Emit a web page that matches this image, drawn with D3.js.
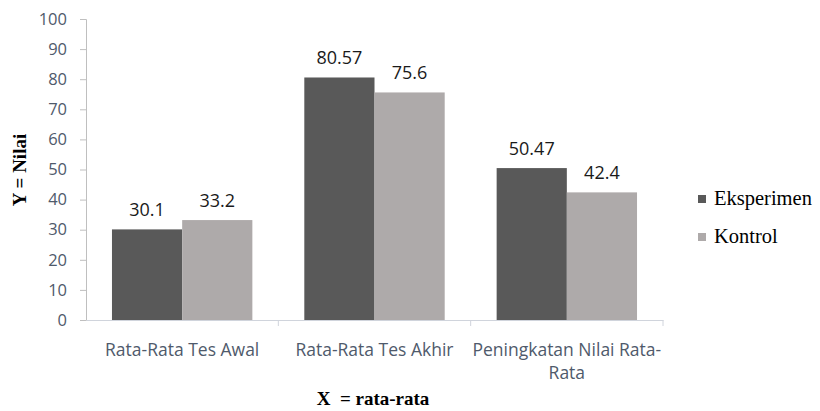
<!DOCTYPE html>
<html>
<head>
<meta charset="utf-8">
<script src="https://cdn.jsdelivr.net/npm/d3@7"></script>
<style>
	body { margin: 0; background: #fff; }
	svg { display: block; }
</style>
</head>
<body>
<script>
// chart values
var categories = ["Rata-Rata Tes Awal", "Rata-Rata Tes Akhir", "Peningkatan Nilai Rata-Rata"];
var categoryLines = [["Rata-Rata Tes Awal"], ["Rata-Rata Tes Akhir"], ["Peningkatan Nilai Rata-", "Rata"]];
var seriesNames = ["Eksperimen", "Kontrol"];
var eksperimen = [30.1, 80.57, 50.47];
var kontrol = [33.2, 75.6, 42.4];
var yTicks = [0, 10, 20, 30, 40, 50, 60, 70, 80, 90, 100];

// basic variables
var chartWidth = 820,
	chartHeight = 411,
	plotLeft = 86,
	plotRight = 663,
	plotTop = 19,
	plotBottom = 320,
	colors = ["#595959", "#aeaaaa"],
	tickColor = "#4f5a6b",
	sans = "'Open Sans', sans-serif",
	serif = "'Liberation Serif', 'Times New Roman', serif";

var svg = d3.select("body")
	.append("svg")
		.attr("width", chartWidth)
		.attr("height", chartHeight);

// scales
var x = d3.scaleBand()
	.domain(categories)
	.range([plotLeft, plotRight]);

var inner = d3.scaleBand()
	.domain(seriesNames)
	.range([0, x.bandwidth()])
	.paddingOuter(0.37);

var y = d3.scaleLinear()
	.domain([0, 100])
	.range([plotBottom, plotTop]);

// y axis
var yAxis = d3.axisLeft(y)
	.tickValues(yTicks)
	.tickSize(6)
	.tickPadding(13);

var gy = svg.append("g")
	.attr("transform", "translate(" + plotLeft + ",0)")
	.call(yAxis);

gy.select(".domain").attr("stroke", "#bfbfbf");
gy.selectAll(".tick line").attr("stroke", "#bfbfbf");
gy.selectAll(".tick text")
	.attr("fill", tickColor)
	.style("font-family", sans)
	.style("font-size", "16.5px");

// x axis
var xAxis = d3.axisBottom(x)
	.tickSize(0)
	.tickFormat("");

var gx = svg.append("g")
	.attr("transform", "translate(0," + plotBottom + ")")
	.call(xAxis);

gx.select(".domain").attr("stroke", "#d0d4dc");

// category separators
svg.append("g")
	.selectAll("line")
	.data(categories)
	.enter()
	.append("line")
		.attr("x1", function(d) { return x(d) + x.bandwidth(); })
		.attr("x2", function(d) { return x(d) + x.bandwidth(); })
		.attr("y1", plotBottom)
		.attr("y2", plotBottom + 6)
		.attr("stroke", "#d0d4dc");

// category labels
var labels = svg.append("g")
	.selectAll("text")
	.data(categories)
	.enter()
	.append("text")
		.attr("text-anchor", "middle")
		.attr("fill", tickColor)
		.style("font-family", sans)
		.style("font-size", "17.5px");

labels.each(function(d, i) {
	var t = d3.select(this);
	categoryLines[i].forEach(function(line, j) {
		t.append("tspan")
			.attr("x", x(d) + x.bandwidth() / 2)
			.attr("y", 356 + j * 23)
			.text(line);
	});
});

// bars
var rows = categories.map(function(c, i) {
	return { category: c, values: [eksperimen[i], kontrol[i]] };
});

var groups = svg.append("g")
	.selectAll("g")
	.data(rows)
	.enter()
	.append("g")
		.attr("transform", function(d) { return "translate(" + x(d.category) + ",0)"; });

var bars = groups.selectAll("rect")
	.data(function(d) {
		return d.values.map(function(v, i) { return { name: seriesNames[i], value: v, i: i }; });
	})
	.enter();

bars.append("rect")
	.attr("x", function(d) { return inner(d.name); })
	.attr("y", function(d) { return y(d.value); })
	.attr("width", inner.bandwidth())
	.attr("height", function(d) { return plotBottom - y(d.value); })
	.attr("fill", function(d) { return colors[d.i]; });

bars.append("text")
	.attr("x", function(d) { return inner(d.name) + inner.bandwidth() / 2; })
	.attr("y", function(d) { return y(d.value) - 13; })
	.attr("text-anchor", "middle")
	.attr("fill", "#1a1a1a")
	.style("font-family", sans)
	.style("font-size", "18px")
	.text(function(d) { return d.value; });

// axis titles
svg.append("text")
	.attr("transform", "translate(26,170) rotate(-90)")
	.attr("text-anchor", "middle")
	.style("font-family", serif)
	.style("font-weight", "bold")
	.style("font-size", "19px")
	.text("Y = Nilai");

svg.append("text")
	.attr("x", 373)
	.attr("y", 405)
	.attr("text-anchor", "middle")
	.style("font-family", serif)
	.style("font-weight", "bold")
	.style("font-size", "19px")
	.style("white-space", "pre")
	.text("X  = rata-rata");

// legend
var legend = svg.append("g")
	.selectAll("g")
	.data(seriesNames)
	.enter()
	.append("g")
		.attr("transform", function(d, i) { return "translate(698," + (199 + i * 38) + ")"; });

legend.append("rect")
	.attr("x", 0)
	.attr("y", -4)
	.attr("width", 8)
	.attr("height", 8)
	.attr("fill", function(d, i) { return colors[i]; });

legend.append("text")
	.attr("x", 16)
	.attr("y", 6)
	.style("font-family", serif)
	.style("font-size", "20.5px")
	.text(function(d) { return d; });
</script>
</body>
</html>
